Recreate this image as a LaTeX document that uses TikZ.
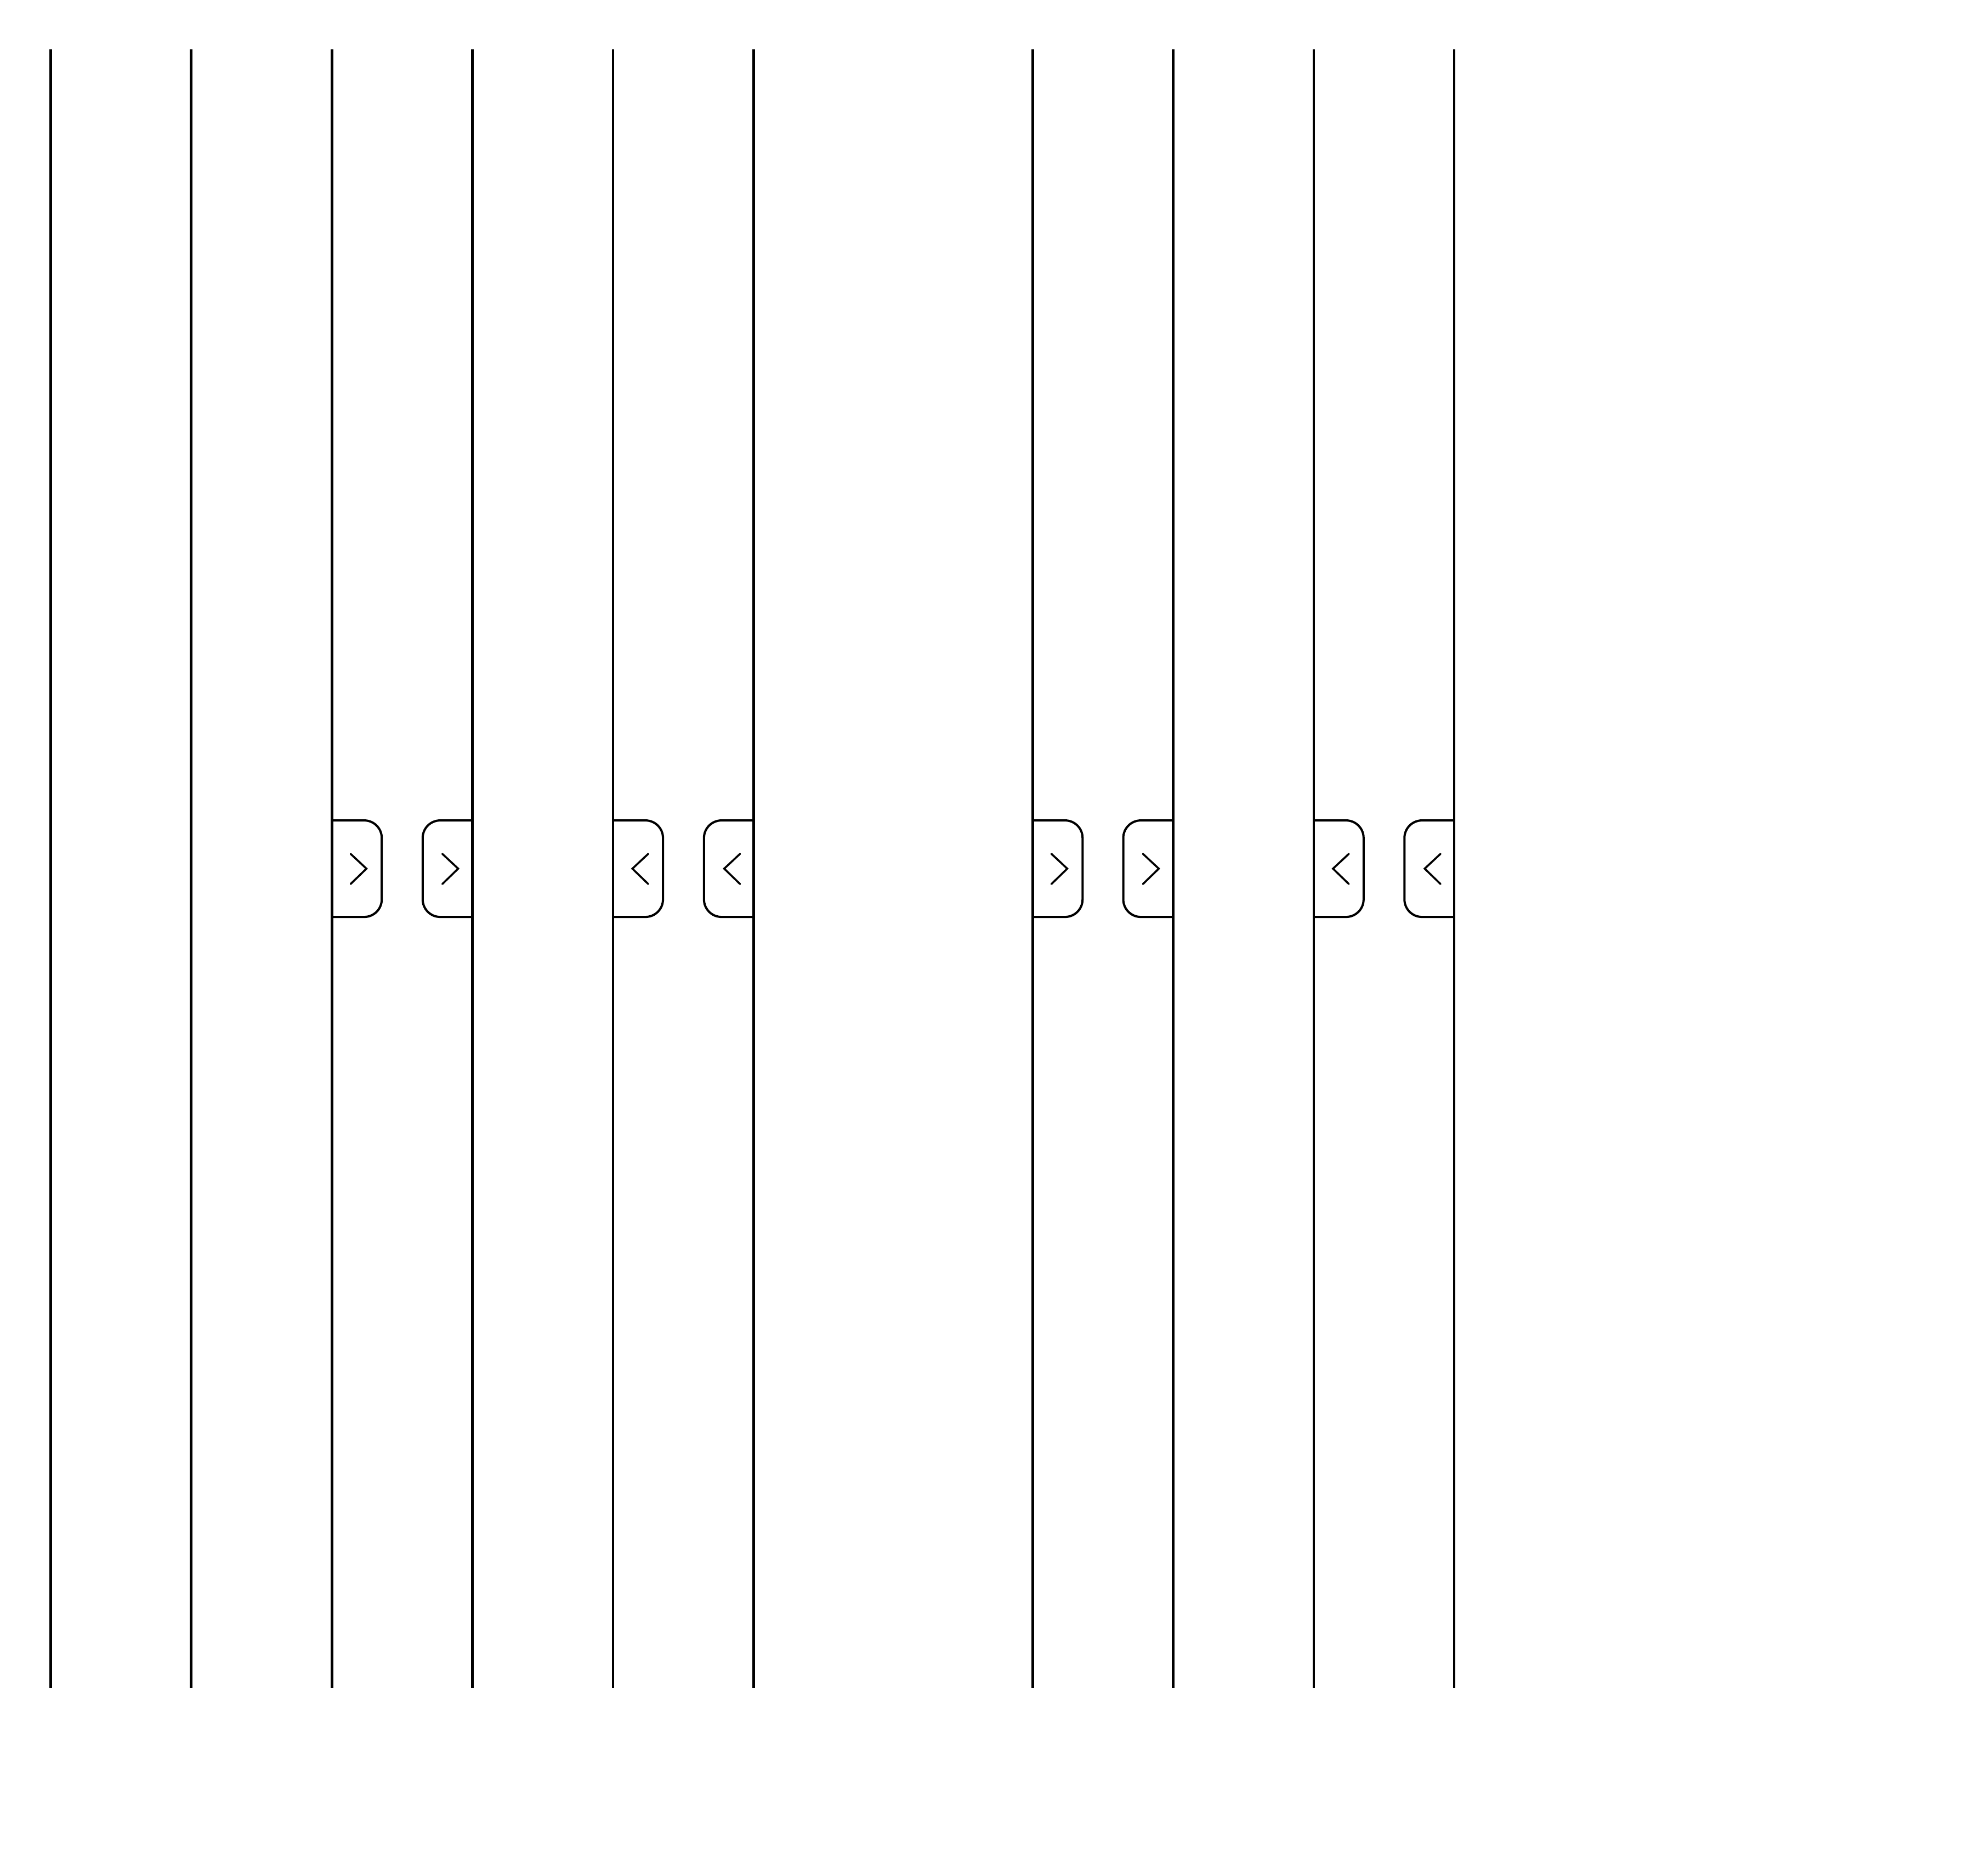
\documentclass[tikz,border=0pt]{standalone}
\begin{document}
\begin{tikzpicture}[
    rail/.style={line width=0.5pt},
    tab/.style={line width=0.45pt, rounded corners=0.125cm},
    chevron/.style={line width=0.4pt, line cap=round}
]
    \useasboundingbox (0,0) rectangle (14.0625,-13.36);

    % Rails
    \foreach \i/\x in {0/0.3605, 1/1.3605, 2/2.3645, 3/3.366, 4/4.368, 5/5.370,
                       7/7.357, 8/8.357, 9/9.359, 10/10.360} {
        \coordinate (top\i) at (\x,-0.352);
        \coordinate (bot\i) at (\x,-12.023);
        \coordinate (tab\i) at (\x,-5.844);
        \draw[rail] (top\i) -- (bot\i);
    }

    % Tabs: rail / tab width / chevron start / chevron width
    \foreach \i/\w/\c/\d in {2/0.355/0.133/0.113, 3/-0.355/-0.215/0.113,
                             7/0.355/0.133/0.113, 8/-0.355/-0.215/0.113,
                             4/0.355/0.25/-0.113, 5/-0.355/-0.098/-0.113,
                             9/0.355/0.25/-0.113, 10/-0.355/-0.098/-0.113} {
        \coordinate (chev\i) at ([shift={(\c,-0.238)}]tab\i);
        \draw[tab] (tab\i) -- ++(\w,0) -- ++(0,-0.6875) -- ++({-(\w)},0);
        \draw[chevron] (chev\i) -- ++(\d,-0.1055) -- ++({-(\d)},-0.1095);
    }
\end{tikzpicture}
\end{document}
